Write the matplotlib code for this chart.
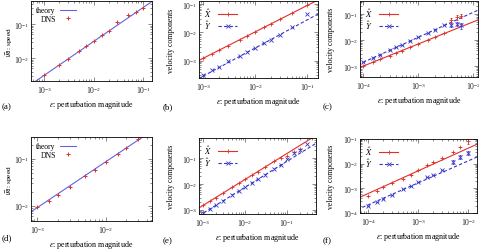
import matplotlib
matplotlib.use("Agg")
import matplotlib.pyplot as plt
from matplotlib.lines import Line2D
from matplotlib.ticker import NullFormatter

plt.rcParams["font.family"] = ["Liberation Serif", "DejaVu Serif"]
plt.rcParams["mathtext.fontset"] = "stix"

RED = "#e0302a"
BLUE = "#3535c8"
THEORY = "#6464dc"

# (a) speed vs perturbation
eps_a = [1e-3, 2e-3, 3e-3, 5e-3, 7e-3, 1e-2, 1.5e-2, 2e-2, 3e-2, 5e-2, 7e-2, 1e-1]
R_a = [0.0031, 0.0062, 0.0094, 0.0158, 0.022, 0.032, 0.047, 0.064, 0.115, 0.18, 0.23, 0.29]
eps_a_th = [5e-4, 0.2]
R_a_th = [1.55e-3, 0.62]

# (d) speed vs perturbation
eps_d = [1e-3, 1.5e-3, 2e-3, 3e-3, 5e-3, 7e-3, 1e-2, 1.5e-2, 2e-2, 3e-2]
R_d = [0.0095, 0.013, 0.017, 0.025, 0.043, 0.059, 0.085, 0.128, 0.17, 0.26]
eps_d_th = [7e-4, 0.06]
R_d_th = [0.00653, 0.488]

# (b) velocity components
eps_b = [1e-3, 1.5e-3, 2e-3, 3e-3, 5e-3, 7e-3, 1e-2, 1.5e-2, 2e-2, 3e-2, 5e-2, 1e-1]
X_b = [1.2e-3, 1.76e-3, 2.3e-3, 3.4e-3, 5.5e-3, 7.6e-3, 0.0105, 0.0154, 0.0202, 0.0297, 0.048, 0.093]
Y_b = [3.0e-4, 4.8e-4, 5.7e-4, 9.3e-4, 1.45e-3, 2.0e-3, 2.8e-3, 4.3e-3, 5.4e-3, 8.2e-3, 0.015, 0.044]
eps_b_th = [8e-4, 0.2]
X_b_th = [9.8e-4, 0.174]
Y_b_th = [2.24e-4, 0.056]

# (c) velocity components
eps_c = [1e-4, 1.5e-4, 2e-4, 3e-4, 4e-4, 5e-4, 7e-4, 1e-3, 1.5e-3, 2e-3, 3e-3, 4e-3, 5e-3, 6e-3]
X_c = [1.0e-3, 1.41e-3, 1.8e-3, 2.54e-3, 3.25e-3, 3.93e-3, 5.2e-3, 7.1e-3, 0.01, 0.0128, 0.018, 0.06, 0.076, 0.087]
Y_c = [1.4e-3, 2.06e-3, 2.72e-3, 4.0e-3, 5.3e-3, 6.6e-3, 9.1e-3, 0.0128, 0.019, 0.025, 0.037, 0.039, 0.042, 0.037]
Xerr_c = [0, 0, 0, 0, 0, 0, 0, 0, 0, 0, 0, 0.012, 0.015, 0.018]
Yerr_c = [0, 0, 0, 0, 0, 0, 0, 0, 0, 0, 0, 0.006, 0.008, 0.01]
eps_c_th = [8e-5, 0.015]
X_c_th = [8.27e-4, 0.0708]
Y_c_th = [1.13e-3, 0.172]

# (e) velocity components
eps_e_X = [1e-3, 1.5e-3, 2e-3, 3e-3, 5e-3, 7e-3, 1e-2, 1.5e-2, 2e-2, 3e-2, 5e-2, 7e-2, 0.1, 0.15, 0.2]
X_e = [1.5e-3, 2.25e-3, 3e-3, 4.5e-3, 7.5e-3, 0.0105, 0.015, 0.0225, 0.03, 0.045, 0.074, 0.1, 0.125, 0.17, 0.22]
eps_e_Y = [1e-3, 1.5e-3, 2e-3, 3e-3, 5e-3, 7e-3, 1e-2, 1.5e-2, 2e-2, 3e-2, 5e-2, 7e-2, 0.1, 0.15, 0.2, 0.3]
Y_e = [7.5e-4, 1.12e-3, 1.5e-3, 2.25e-3, 3.75e-3, 5.3e-3, 7.5e-3, 0.0113, 0.015, 0.0225, 0.038, 0.053, 0.09, 0.15, 0.2, 0.34]
eps_e_th = [8e-4, 0.5]
X_e_th = [1.2e-3, 0.75]
Y_e_th = [6e-4, 0.375]

# (f) velocity components
eps_f = [1e-4, 1.5e-4, 2e-4, 3e-4, 5e-4, 7e-4, 1e-3, 1.5e-3, 2e-3, 3e-3, 5e-3, 7e-3, 1e-2]
X_f = [5.1e-4, 8.1e-4, 1.1e-3, 1.58e-3, 2.5e-3, 3.6e-3, 5.4e-3, 8.6e-3, 0.0117, 0.017, 0.031, 0.047, 0.085]
Y_f = [1.86e-4, 2.9e-4, 3.7e-4, 5.4e-4, 9.4e-4, 1.28e-3, 1.85e-3, 2.9e-3, 3.6e-3, 5.8e-3, 0.0117, 0.0186, 0.0275]
Xerr_f = [0, 0, 0, 0, 0, 0, 0, 0, 0, 0, 0, 0, 0.02]
Yerr_f = [0, 0, 0, 0, 0, 0, 0, 0, 0, 0, 0.002, 0.003, 0.004]
eps_f_th = [6e-5, 0.02]
X_f_th = [3.9e-4, 0.08]
Y_f_th = [1.37e-4, 0.024]

W, H = 479, 253
fig = plt.figure(figsize=(W / 100, H / 100), dpi=100)


def make_axes(x0, y0, x1, y1, xlim, ylim, ylabel, ylab_x, ylab_size=5.6):
    ax = fig.add_axes([x0 / W, 1 - y1 / H, (x1 - x0) / W, (y1 - y0) / H])
    ax.set_xscale("log")
    ax.set_yscale("log")
    ax.set_xlim(*xlim)
    ax.set_ylim(*ylim)
    ax.xaxis.set_minor_formatter(NullFormatter())
    ax.yaxis.set_minor_formatter(NullFormatter())
    ax.tick_params(which="both", direction="in", top=True, right=True,
                   labelsize=5.5, width=0.4, colors="#333333", labelcolor="#222222")
    ax.tick_params(which="major", length=3, pad=2.5)
    ax.tick_params(axis="y", which="major", pad=1.2)
    ax.tick_params(which="minor", length=1.5)
    for s in ax.spines.values():
        s.set_linewidth(0.6)
    ax.set_xlabel(r"$\epsilon$: perturbation magnitude", fontsize=5.8, labelpad=2)
    ax.set_ylabel(ylabel, fontsize=ylab_size)
    # label anchor is its right-hand side after rotation
    ax.yaxis.set_label_coords((ylab_x - x0) / (x1 - x0), 0.5)
    return ax


def speed_panel(ax, eps, R, eps_th, R_th):
    ax.plot(eps_th, R_th, color=THEORY, lw=0.8, label="theory")
    ax.plot(eps, R, "+", color=RED, ms=2.5, mew=0.7, label="DNS")
    ax.legend(loc="upper left", markerfirst=False, frameon=False, fontsize=5.5,
              handlelength=2.0, labelspacing=0.1, borderaxespad=0.3, handletextpad=0.6)


def velocity_panel(ax, eps_X, X, eps_Y, Y, eps_th, X_th, Y_th, Xerr=None, Yerr=None):
    ax.plot(eps_th, X_th, color=RED, lw=0.8)
    ax.plot(eps_th, Y_th, color=BLUE, lw=0.8, ls=(0, (3, 2)))
    ax.errorbar(eps_X, X, yerr=Xerr, fmt="+", color=RED, ms=3, mew=0.6,
                elinewidth=0.5, capsize=1)
    ax.errorbar(eps_Y, Y, yerr=Yerr, fmt="x", color=BLUE, ms=2.5, mew=0.6,
                elinewidth=0.5, capsize=1)
    handles = [
        Line2D([], [], color=RED, lw=0.8, marker="+", ms=3, mew=0.6),
        Line2D([], [], color=BLUE, lw=0.8, ls=(0, (3, 2)), marker="x", ms=2.5, mew=0.6),
    ]
    ax.legend(handles, [r"$\hat{X}$", r"$\hat{Y}$"], loc="upper left", markerfirst=False,
              frameon=False, fontsize=6, handlelength=2.2, labelspacing=0.0,
              borderaxespad=0.2, handletextpad=0.8)


speed_label = r"$|\vec{R}|$: speed"
vel_label = "velocity components"

ax_a = make_axes(31, 2, 152, 82, (5.4e-4, 0.15), (2.1e-3, 0.48), speed_label, 15, 5.3)
speed_panel(ax_a, eps_a, R_a, eps_a_th, R_a_th)

ax_b = make_axes(199, 2, 318, 79, (8.3e-4, 0.16), (2.4e-4, 0.13), vel_label, 175)
velocity_panel(ax_b, eps_b, X_b, eps_b, Y_b, eps_b_th, X_b_th, Y_b_th)

ax_c = make_axes(360, 2, 478, 78, (8.7e-5, 0.0123), (3.8e-4, 0.32), vel_label, 335)
velocity_panel(ax_c, eps_c, X_c, eps_c, Y_c, eps_c_th, X_c_th, Y_c_th, Xerr_c, Yerr_c)

ax_d = make_axes(31, 138, 152, 222, (8.1e-4, 0.048), (4.8e-3, 0.29), speed_label, 15, 5.3)
speed_panel(ax_d, eps_d, R_d, eps_d_th, R_d_th)

ax_e = make_axes(199, 139, 316, 215, (8e-4, 0.49), (7e-4, 0.59), vel_label, 175)
velocity_panel(ax_e, eps_e_X, X_e, eps_e_Y, Y_e, eps_e_th, X_e_th, Y_e_th)

ax_f = make_axes(360, 140, 477, 214, (6.8e-5, 0.015), (1e-4, 0.1), vel_label, 335)
velocity_panel(ax_f, eps_f, X_f, eps_f, Y_f, eps_f_th, X_f_th, Y_f_th, Xerr_f, Yerr_f)

for lab, x, y in [("(a)", 2, 107), ("(b)", 163, 107), ("(c)", 323, 107),
                  ("(d)", 2, 238), ("(e)", 163, 241), ("(f)", 323, 241)]:
    fig.text(x / W, 1 - y / H, lab, fontsize=6.5, va="center", ha="left")

fig.savefig("out.png", dpi=100)
